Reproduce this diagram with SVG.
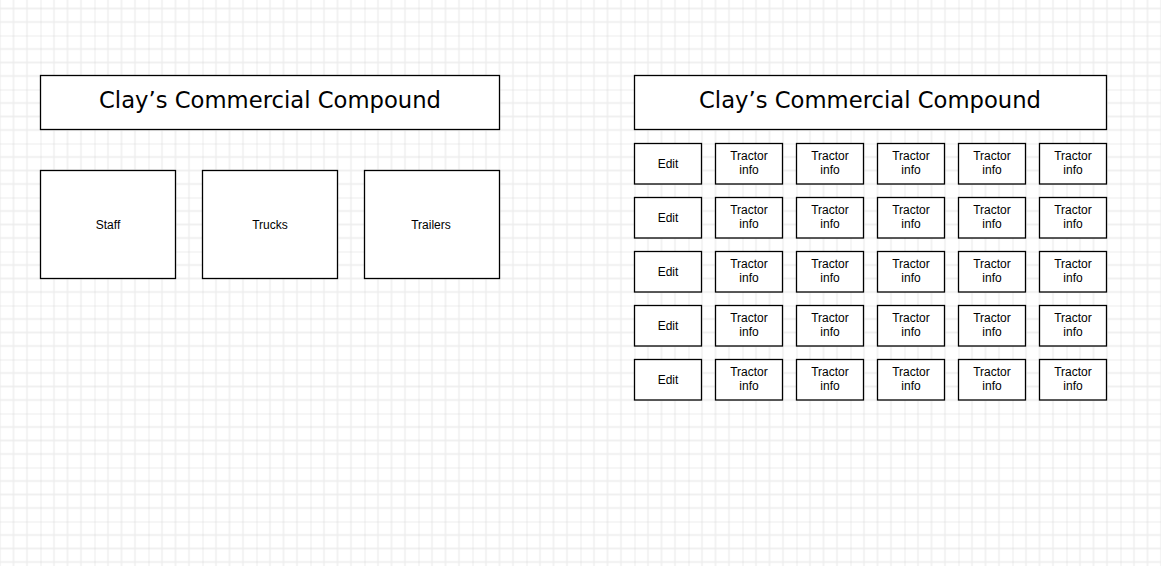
<svg xmlns="http://www.w3.org/2000/svg" width="1161" height="566" viewBox="0 0 1161 566">
<style>
.box{fill:#fff;stroke:#000;stroke-width:1.3}
.t{font-family:"Liberation Sans",Arial,sans-serif;font-size:12px;fill:#000;text-anchor:middle}
.title{font-family:"DejaVu Sans",sans-serif;font-size:23px;fill:#000;text-anchor:middle}
</style>
<defs>
<pattern id="grid" patternUnits="userSpaceOnUse" x="40.5" y="35.5" width="54" height="54">
<path d="M13.5 0V54M27 0V54M40.5 0V54M0 13.5H54M0 27H54M0 40.5H54" stroke="#ececec" stroke-width="1.3" fill="none"/>
<path d="M0 0V54M0 0H54" stroke="#d9d9d9" stroke-width="1" fill="none"/>
</pattern>
<g id="tractor"><text class="t" y="-4.5">Tractor</text><text class="t" y="10">info</text></g>
</defs>
<rect width="1161" height="566" fill="#fff"/>
<rect width="1161" height="566" fill="url(#grid)"/>
<g id="connectors"/>
<g id="left-title"><rect class="box" x="40.5" y="75.5" width="459" height="54"/><text class="title" x="270" y="108" textLength="342" lengthAdjust="spacingAndGlyphs">Clay’s Commercial Compound</text></g>
<g id="staff"><rect class="box" x="40.5" y="170.5" width="135" height="108"/><text class="t" x="108" y="229">Staff</text></g>
<g id="trucks"><rect class="box" x="202.5" y="170.5" width="135" height="108"/><text class="t" x="270" y="229">Trucks</text></g>
<g id="trailers"><rect class="box" x="364.5" y="170.5" width="135" height="108"/><text class="t" x="431" y="229">Trailers</text></g>
<g id="right-title"><rect class="box" x="634.5" y="75.5" width="472" height="54"/><text class="title" x="870" y="108" textLength="342" lengthAdjust="spacingAndGlyphs">Clay’s Commercial Compound</text></g>
<g id="row1">
<g id="edit1"><rect class="box" x="634.5" y="143.5" width="67" height="40.5"/><text class="t" x="668" y="168">Edit</text></g>
<g id="r1c1"><rect class="box" x="715.5" y="143.5" width="67" height="40.5"/><use href="#tractor" x="749" y="164"/></g>
<g id="r1c2"><rect class="box" x="796.5" y="143.5" width="67" height="40.5"/><use href="#tractor" x="830" y="164"/></g>
<g id="r1c3"><rect class="box" x="877.5" y="143.5" width="67" height="40.5"/><use href="#tractor" x="911" y="164"/></g>
<g id="r1c4"><rect class="box" x="958.5" y="143.5" width="67" height="40.5"/><use href="#tractor" x="992" y="164"/></g>
<g id="r1c5"><rect class="box" x="1039.5" y="143.5" width="67" height="40.5"/><use href="#tractor" x="1073" y="164"/></g>
</g>
<g id="row2">
<g id="edit2"><rect class="box" x="634.5" y="197.5" width="67" height="40.5"/><text class="t" x="668" y="222">Edit</text></g>
<g id="r2c1"><rect class="box" x="715.5" y="197.5" width="67" height="40.5"/><use href="#tractor" x="749" y="218"/></g>
<g id="r2c2"><rect class="box" x="796.5" y="197.5" width="67" height="40.5"/><use href="#tractor" x="830" y="218"/></g>
<g id="r2c3"><rect class="box" x="877.5" y="197.5" width="67" height="40.5"/><use href="#tractor" x="911" y="218"/></g>
<g id="r2c4"><rect class="box" x="958.5" y="197.5" width="67" height="40.5"/><use href="#tractor" x="992" y="218"/></g>
<g id="r2c5"><rect class="box" x="1039.5" y="197.5" width="67" height="40.5"/><use href="#tractor" x="1073" y="218"/></g>
</g>
<g id="row3">
<g id="edit3"><rect class="box" x="634.5" y="251.5" width="67" height="40.5"/><text class="t" x="668" y="276">Edit</text></g>
<g id="r3c1"><rect class="box" x="715.5" y="251.5" width="67" height="40.5"/><use href="#tractor" x="749" y="272"/></g>
<g id="r3c2"><rect class="box" x="796.5" y="251.5" width="67" height="40.5"/><use href="#tractor" x="830" y="272"/></g>
<g id="r3c3"><rect class="box" x="877.5" y="251.5" width="67" height="40.5"/><use href="#tractor" x="911" y="272"/></g>
<g id="r3c4"><rect class="box" x="958.5" y="251.5" width="67" height="40.5"/><use href="#tractor" x="992" y="272"/></g>
<g id="r3c5"><rect class="box" x="1039.5" y="251.5" width="67" height="40.5"/><use href="#tractor" x="1073" y="272"/></g>
</g>
<g id="row4">
<g id="edit4"><rect class="box" x="634.5" y="305.5" width="67" height="40.5"/><text class="t" x="668" y="330">Edit</text></g>
<g id="r4c1"><rect class="box" x="715.5" y="305.5" width="67" height="40.5"/><use href="#tractor" x="749" y="326"/></g>
<g id="r4c2"><rect class="box" x="796.5" y="305.5" width="67" height="40.5"/><use href="#tractor" x="830" y="326"/></g>
<g id="r4c3"><rect class="box" x="877.5" y="305.5" width="67" height="40.5"/><use href="#tractor" x="911" y="326"/></g>
<g id="r4c4"><rect class="box" x="958.5" y="305.5" width="67" height="40.5"/><use href="#tractor" x="992" y="326"/></g>
<g id="r4c5"><rect class="box" x="1039.5" y="305.5" width="67" height="40.5"/><use href="#tractor" x="1073" y="326"/></g>
</g>
<g id="row5">
<g id="edit5"><rect class="box" x="634.5" y="359.5" width="67" height="40.5"/><text class="t" x="668" y="384">Edit</text></g>
<g id="r5c1"><rect class="box" x="715.5" y="359.5" width="67" height="40.5"/><use href="#tractor" x="749" y="380"/></g>
<g id="r5c2"><rect class="box" x="796.5" y="359.5" width="67" height="40.5"/><use href="#tractor" x="830" y="380"/></g>
<g id="r5c3"><rect class="box" x="877.5" y="359.5" width="67" height="40.5"/><use href="#tractor" x="911" y="380"/></g>
<g id="r5c4"><rect class="box" x="958.5" y="359.5" width="67" height="40.5"/><use href="#tractor" x="992" y="380"/></g>
<g id="r5c5"><rect class="box" x="1039.5" y="359.5" width="67" height="40.5"/><use href="#tractor" x="1073" y="380"/></g>
</g>
</svg>
